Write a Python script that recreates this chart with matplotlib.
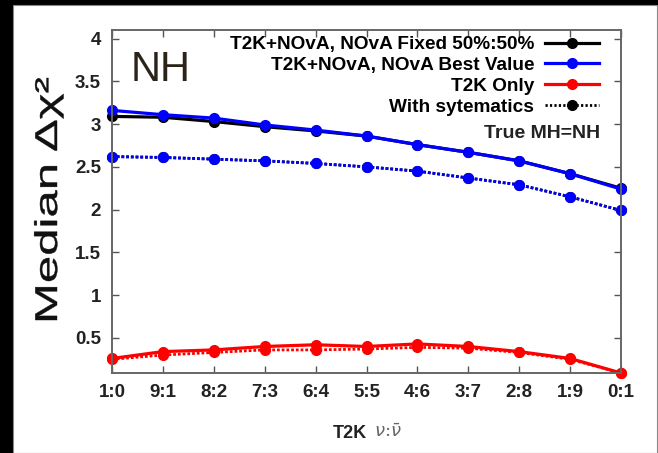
import numpy as np
import matplotlib
matplotlib.use("Agg")
import matplotlib.pyplot as plt
from matplotlib.lines import Line2D
from matplotlib.patches import Rectangle, PathPatch
from matplotlib.textpath import TextPath
from matplotlib.font_manager import FontProperties
from matplotlib.transforms import Affine2D, IdentityTransform

# T2K neutrino : antineutrino run ratio
ratios = ["1:0", "9:1", "8:2", "7:3", "6:4", "5:5", "4:6", "3:7", "2:8", "1:9", "0:1"]

# median delta chi^2, true MH = NH
nova_fixed = [3.09, 3.08, 3.03, 2.97, 2.92, 2.86, 2.76, 2.67, 2.57, 2.42, 2.25]
nova_best = [3.16, 3.11, 3.07, 2.99, 2.93, 2.86, 2.76, 2.67, 2.57, 2.42, 2.24]
t2k_only = [0.26, 0.34, 0.36, 0.40, 0.42, 0.40, 0.43, 0.40, 0.34, 0.26, 0.09]

# same, with systematics
nova_fixed_sys = [2.62, 2.61, 2.59, 2.57, 2.54, 2.50, 2.45, 2.37, 2.29, 2.15, 1.99]
nova_best_sys = [2.62, 2.61, 2.59, 2.57, 2.54, 2.50, 2.45, 2.37, 2.29, 2.15, 1.99]
t2k_only_sys = [0.25, 0.30, 0.33, 0.36, 0.36, 0.37, 0.39, 0.38, 0.33, 0.25, 0.09]

yticks = [0.5, 1, 1.5, 2, 2.5, 3, 3.5, 4]

W, H = 658, 453
fig = plt.figure(figsize=(W / 100, H / 100), dpi=100, facecolor="black")
fig.patches.append(Rectangle((13 / W, 0), 644 / W, 1 - 5 / H,
                             transform=fig.transFigure, facecolor="white",
                             edgecolor="#888888", lw=0.8, zorder=-10))

ax = fig.add_axes([112 / W, 1 - 373 / H, (621 - 112) / W, (373 - 30) / H])
ax.set_facecolor("white")
x = np.arange(len(ratios))

dotted = (0, (1.0, 0.7))
lw_solid, lw_dot, ms = 2.3, 2.0, 7

ax.plot(x, nova_fixed_sys, color="black", lw=lw_dot, ls=dotted, marker="o", ms=ms, clip_on=False)
ax.plot(x, nova_best_sys, color="blue", lw=lw_dot, ls=dotted, marker="o", ms=ms, clip_on=False)
ax.plot(x, nova_fixed, color="black", lw=lw_solid, marker="o", ms=ms, clip_on=False)
ax.plot(x, nova_best, color="blue", lw=lw_solid, marker="o", ms=ms, clip_on=False)
ax.plot(x, t2k_only_sys, color="red", lw=lw_dot, ls=dotted, marker="o", ms=ms, clip_on=False)
ax.plot(x, t2k_only, color="red", lw=lw_solid, marker="o", ms=ms, clip_on=False)

ax.set_xlim(0, len(ratios) - 1)
ax.set_ylim(0.09, 4.1)
ax.set_xticks(x)
ax.set_xticklabels(ratios)
ax.set_yticks(yticks)
ax.set_yticklabels([f"{v:g}" for v in yticks])
ax.tick_params(direction="in", length=5, width=1, color="#555555",
               top=True, right=True, pad=8, labelsize=13.5)
for lab in ax.get_xticklabels() + ax.get_yticklabels():
    lab.set_family("Liberation Sans")
    lab.set_fontweight("bold")
    lab.set_color("#222222")
for s in ax.spines.values():
    s.set_color("#666666")
    s.set_linewidth(1.4)

handles = [
    Line2D([], [], color="black", lw=lw_solid, marker="o", ms=ms),
    Line2D([], [], color="blue", lw=lw_solid, marker="o", ms=ms),
    Line2D([], [], color="red", lw=lw_solid, marker="o", ms=ms),
    Line2D([], [], color="black", lw=lw_dot, ls=(0, (0.8, 0.8)), marker="o", ms=ms),
]
labels = ["T2K+NOvA, NOvA Fixed 50%:50%", "T2K+NOvA, NOvA Best Value",
          "T2K Only", "With sytematics"]
ax.legend(handles, labels, loc="upper right", bbox_to_anchor=(599 / W, 1 - 36 / H),
          bbox_transform=fig.transFigure, markerfirst=False, frameon=False,
          numpoints=1, handlelength=2.85, handletextpad=0.55, labelspacing=0.18,
          borderpad=0, borderaxespad=0,
          prop={"family": "Liberation Sans", "weight": "bold", "size": 13.7})

ax.text(600 / W, 1 - 134 / H, "True MH=NH", transform=fig.transFigure,
        ha="right", va="center", fontsize=14, fontweight="bold",
        family="Liberation Sans", color="#222222")
ax.text(161 / W, 1 - 70 / H, "NH", transform=fig.transFigure, ha="center",
        va="center", fontsize=30, family="Liberation Sans", color="#2a2418")

# y label: a stretched, rotated text outline in pixel coordinates
tp = TextPath((0, 0), "Median Δχ²", size=100, prop=FontProperties(family="Liberation Sans"))
ext = tp.get_extents()
length_px, cap_px = 242, 23
tr = (Affine2D().translate(-ext.x0, 0)
      .scale(length_px / ext.width, cap_px / 72.9)
      .rotate_deg(90)
      .translate(57, H - 320))
fig.patches.append(PathPatch(tr.transform_path(tp), transform=IdentityTransform(),
                             facecolor="#111111", edgecolor="#111111", lw=0.3,
                             zorder=5))

fig.text(367 / W, 1 - 433 / H, "T2K", ha="right", va="center", fontsize=13,
         fontweight="bold", family="Liberation Sans", color="#222222")
fig.text(374 / W, 1 - 432 / H, r"$\nu$:$\bar{\nu}$", ha="left", va="center",
         fontsize=13, family="DejaVu Serif", color="#666666")

fig.savefig("out.png", dpi=100, facecolor=fig.get_facecolor())
